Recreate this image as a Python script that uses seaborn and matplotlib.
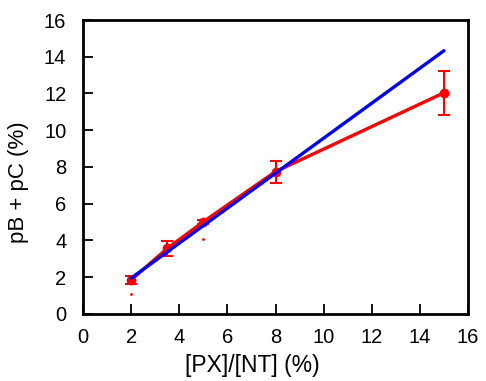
import matplotlib
matplotlib.use("Agg")
import matplotlib.pyplot as plt
import numpy as np
import pandas as pd
import seaborn as sns

# measured points
px_nt = [2, 3.5, 5, 8, 15]
pb_pc = [1.85, 3.57, 5.02, 7.75, 12.04]
pb_pc_err = [0.2, 0.4, 0.1, 0.6, 1.2]

# linear fit endpoints
fit_x = [2, 15]
fit_y = [1.95, 14.33]

# stray red dots in the original
dot_x = [2, 5]
dot_y = [1.09, 4.08]

sns.set_theme(style="ticks")
plt.rcParams['font.family'] = ['Liberation Sans', 'DejaVu Sans']

df = pd.DataFrame({'x': px_nt, 'y': pb_pc})
fit = pd.DataFrame({'x': fit_x, 'y': fit_y})

fig = plt.figure(figsize=(4.86, 3.81), dpi=100)
ax = fig.add_axes([0.1708, 0.1759, 0.7922, 0.7716])

ax.errorbar(px_nt, pb_pc, yerr=pb_pc_err, fmt='none', ecolor='#ff0000',
            elinewidth=1.5, capsize=4, capthick=1.5, zorder=2)
sns.lineplot(data=df, x='x', y='y', ax=ax, color='#ff0000', lw=2.4,
             marker='o', markersize=7, markeredgewidth=0, zorder=3)
ax.scatter(dot_x, dot_y, s=1, color='#ff0000', zorder=2)
sns.lineplot(data=fit, x='x', y='y', ax=ax, color='#0000ff', lw=2.4, zorder=4)

ax.set_xlim(0, 16)
ax.set_ylim(0, 16)
ax.set_xticks(np.arange(0, 17, 2))
ax.set_yticks(np.arange(0, 17, 2))
ax.tick_params(direction='in', length=7, width=1.3, labelsize=14.5,
               colors='black')
ax.tick_params(axis='x', pad=10)
ax.tick_params(axis='y', pad=12)
for s in ax.spines.values():
    s.set_linewidth(2)
    s.set_color('black')

ax.set_xlabel('[PX]/[NT] (%)', fontsize=16.5, color='black')
ax.set_ylabel('pB + pC (%)', fontsize=16, color='black')
ax.xaxis.set_label_coords(0.44, -0.135)
ax.yaxis.set_label_coords(-0.14, 0.45)

fig.savefig('out.png', dpi=100)
